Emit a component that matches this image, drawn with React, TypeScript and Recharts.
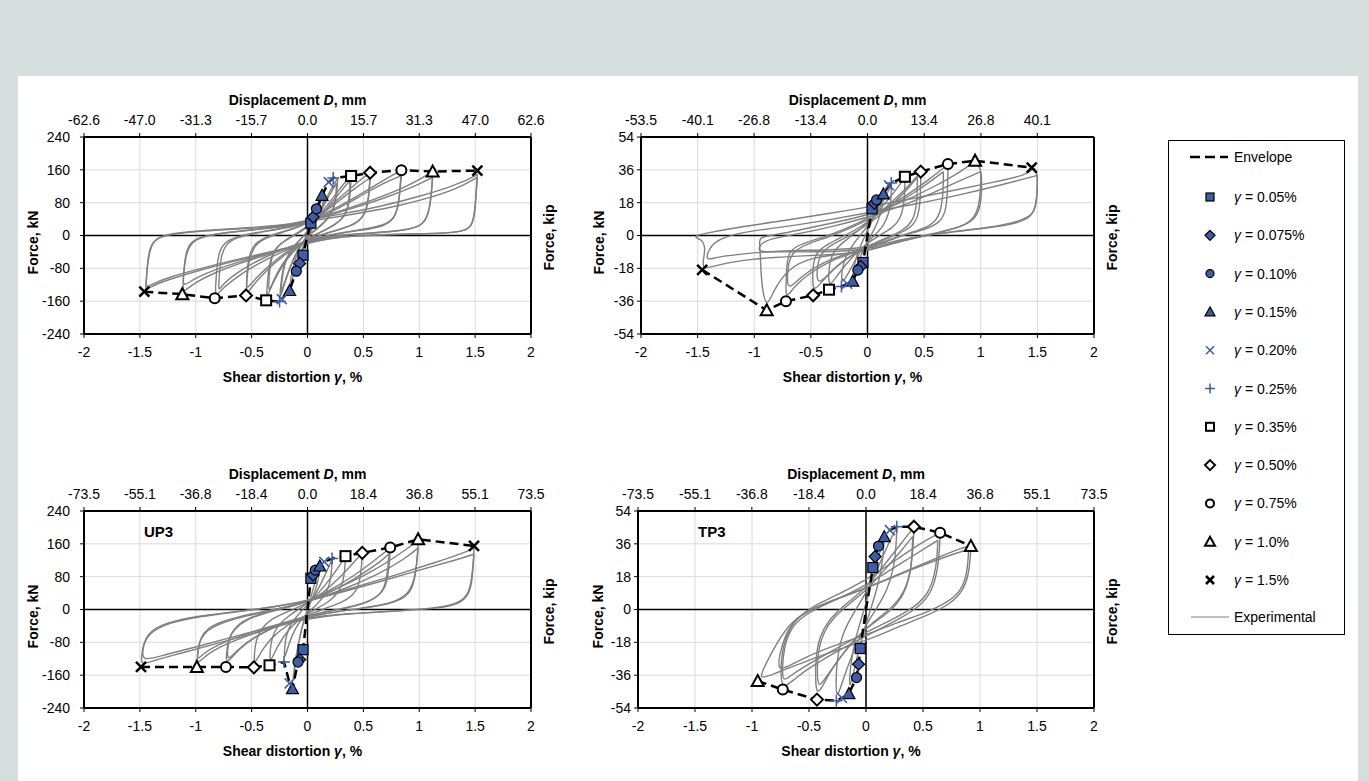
import React from 'react';
import { ScatterChart, Scatter, XAxis, YAxis, CartesianGrid, ReferenceLine } from 'recharts';

const FONT = '"Liberation Sans", Arial, sans-serif';
const BLUE = '#3d5da8';
const LOOP = '#808080';

type Pt = [number, number];

// axis ticks
const gammaTicks = [-2, -1.5, -1, -0.5, 0, 0.5, 1, 1.5, 2];
const kNTicks = [-240, -160, -80, 0, 80, 160, 240];
const smallTicks = [-54, -36, -18, 0, 18, 36, 54];
const dispTicksA = [-62.6, -47.0, -31.3, -15.7, 0, 15.7, 31.3, 47.0, 62.6];
const dispTicksB = [-53.5, -40.1, -26.8, -13.4, 0, 13.4, 26.8, 40.1];
const dispTicksC = [-73.5, -55.1, -36.8, -18.4, 0, 18.4, 36.8, 55.1, 73.5];

// drift levels, in legend order
const levels = ['0.05%', '0.075%', '0.10%', '0.15%', '0.20%', '0.25%', '0.35%', '0.50%', '0.75%', '1.0%', '1.5%'];
const kinds = ['sqFill', 'diaFill', 'cirFill', 'triFill', 'xBlue', 'plusBlue', 'sqOpen', 'diaOpen', 'cirOpen', 'triOpen', 'xBlack'];
const origin: Pt = [0, 0];

// ---- top left panel
const p1Neg: (Pt | null)[] = [[-0.04, -48], [-0.07, -68], [-0.1, -87], [-0.16, -134], [-0.23, -155], [-0.25, -161], [-0.37, -158], [-0.55, -146], [-0.83, -153], [-1.12, -143], [-1.46, -137]];
const p1Pos: (Pt | null)[] = [[0.03, 30], [0.05, 45], [0.08, 65], [0.13, 98], [0.19, 130], [0.23, 140], [0.39, 145], [0.56, 153], [0.84, 159], [1.12, 156], [1.52, 158]];
const p1Loops: Pt[][] = [
  [[1.52, 150], [1.515, 125], [1.5, 70], [1.48, 28], [1.42, 11], [1.25, 6], [0.9, 4], [0.5, 1], [0.2, -6], [0.02, -18], [-0.3, -40], [-0.65, -62], [-1.0, -87], [-1.3, -112], [-1.44, -130], [-1.45, -134], [-1.44, -105], [-1.43, -55], [-1.4, -20], [-1.33, -3], [-1.2, 6], [-0.9, 13], [-0.5, 19], [-0.15, 27], [0, 38], [0.3, 52], [0.65, 70], [1.0, 95], [1.3, 120], [1.47, 140], [1.52, 150]],
  [[1.52, 142], [1.51, 110], [1.5, 55], [1.47, 20], [1.38, 8], [1.1, 4], [0.7, 2], [0.3, -3], [0.05, -14], [-0.25, -35], [-0.6, -56], [-0.95, -80], [-1.25, -102], [-1.42, -122], [-1.45, -128], [-1.44, -95], [-1.42, -45], [-1.38, -12], [-1.28, 1], [-1.0, 10], [-0.6, 16], [-0.25, 23], [-0.02, 33], [0.3, 47], [0.7, 65], [1.05, 88], [1.35, 115], [1.52, 142]],
  [[1.12, 156], [1.115, 125], [1.1, 80], [1.07, 40], [1.0, 20], [0.8, 10], [0.5, 5], [0.2, 0], [0.02, -15], [-0.25, -38], [-0.55, -62], [-0.85, -92], [-1.05, -122], [-1.12, -142], [-1.11, -110], [-1.1, -60], [-1.07, -22], [-0.98, -5], [-0.8, 5], [-0.5, 14], [-0.2, 23], [0, 36], [0.3, 60], [0.6, 88], [0.9, 120], [1.06, 146], [1.12, 156]],
  [[1.12, 142], [1.11, 105], [1.09, 58], [1.04, 28], [0.92, 14], [0.65, 7], [0.35, 2], [0.08, -10], [-0.18, -30], [-0.5, -55], [-0.8, -80], [-1.02, -105], [-1.12, -128], [-1.11, -95], [-1.09, -48], [-1.04, -15], [-0.92, -1], [-0.7, 8], [-0.4, 16], [-0.1, 25], [0.1, 42], [0.4, 66], [0.7, 92], [0.98, 122], [1.12, 142]],
  [[0.84, 158], [0.83, 130], [0.82, 85], [0.79, 48], [0.72, 28], [0.55, 17], [0.3, 7], [0.08, -7], [-0.12, -27], [-0.35, -55], [-0.58, -90], [-0.76, -128], [-0.83, -152], [-0.82, -118], [-0.81, -68], [-0.78, -28], [-0.7, -8], [-0.52, 5], [-0.28, 15], [-0.05, 28], [0.15, 52], [0.4, 88], [0.64, 128], [0.78, 150], [0.84, 158]],
  [[0.84, 146], [0.83, 112], [0.81, 68], [0.77, 38], [0.68, 22], [0.5, 13], [0.25, 5], [0.05, -8], [-0.15, -26], [-0.38, -52], [-0.6, -84], [-0.76, -118], [-0.8, -138], [-0.79, -105], [-0.78, -58], [-0.74, -22], [-0.64, -5], [-0.45, 7], [-0.2, 17], [0.02, 32], [0.22, 58], [0.45, 92], [0.68, 128], [0.84, 146]],
  [[0.56, 152], [0.555, 120], [0.545, 80], [0.51, 48], [0.43, 28], [0.28, 14], [0.1, 0], [-0.05, -18], [-0.2, -45], [-0.37, -85], [-0.5, -125], [-0.55, -146], [-0.545, -110], [-0.535, -65], [-0.5, -28], [-0.42, -9], [-0.28, 5], [-0.1, 19], [0.05, 38], [0.2, 70], [0.38, 114], [0.5, 142], [0.56, 152]],
  [[0.56, 140], [0.55, 105], [0.53, 65], [0.48, 38], [0.38, 22], [0.22, 10], [0.06, -4], [-0.08, -20], [-0.22, -45], [-0.38, -82], [-0.5, -115], [-0.55, -134], [-0.54, -98], [-0.52, -55], [-0.47, -22], [-0.37, -5], [-0.22, 8], [-0.06, 22], [0.08, 42], [0.24, 75], [0.42, 115], [0.56, 140]],
  [[0.39, 145], [0.385, 110], [0.37, 72], [0.33, 45], [0.24, 25], [0.12, 9], [0.01, -8], [-0.1, -30], [-0.22, -70], [-0.32, -120], [-0.37, -158], [-0.36, -120], [-0.345, -70], [-0.3, -33], [-0.2, -11], [-0.08, 8], [0.04, 30], [0.15, 64], [0.28, 110], [0.36, 138], [0.39, 145]],
  [[0.38, 134], [0.375, 100], [0.36, 64], [0.31, 38], [0.21, 20], [0.09, 5], [-0.02, -10], [-0.12, -32], [-0.23, -70], [-0.31, -112], [-0.35, -142], [-0.345, -105], [-0.33, -60], [-0.28, -27], [-0.17, -7], [-0.05, 10], [0.07, 34], [0.18, 68], [0.3, 108], [0.38, 134]],
  [[0.27, 140], [0.265, 105], [0.245, 70], [0.19, 42], [0.09, 18], [0, 0], [-0.08, -30], [-0.16, -80], [-0.22, -130], [-0.25, -158], [-0.24, -120], [-0.215, -70], [-0.15, -34], [-0.06, -9], [0.03, 20], [0.12, 64], [0.2, 108], [0.27, 140]],
  [[0.26, 128], [0.255, 95], [0.23, 62], [0.17, 36], [0.08, 14], [-0.01, -4], [-0.09, -34], [-0.17, -85], [-0.22, -125], [-0.24, -145], [-0.23, -108], [-0.2, -62], [-0.14, -30], [-0.05, -6], [0.04, 22], [0.12, 60], [0.2, 100], [0.26, 128]],
  [[0.15, 105], [0.14, 75], [0.1, 44], [0.04, 15], [-0.02, -15], [-0.08, -55], [-0.13, -100], [-0.16, -135], [-0.15, -100], [-0.11, -55], [-0.05, -20], [0.02, 14], [0.08, 55], [0.13, 90], [0.15, 105]],
  [[0.09, 70], [0.07, 45], [0.03, 15], [-0.03, -25], [-0.07, -60], [-0.1, -88], [-0.08, -60], [-0.04, -28], [0.01, 5], [0.05, 35], [0.09, 70]],
];

// ---- top right panel
const p2Neg: (Pt | null)[] = [[-0.04, -14.8], [-0.06, -17], [-0.085, -19], [-0.13, -25], [-0.18, -26.5], [-0.23, -28], [-0.34, -29.7], [-0.48, -32.8], [-0.72, -36], [-0.89, -41], [-1.46, -18.8]];
const p2Pos: (Pt | null)[] = [[0.04, 14.6], [0.06, 17.7], [0.08, 19.5], [0.14, 22.8], [0.19, 27.5], [0.21, 28.8], [0.33, 32.2], [0.47, 35], [0.71, 39.2], [0.95, 41], [1.45, 37.2]];
const p2Loops: Pt[][] = [
  [[1.47, 37], [1.5, 34], [1.5, 26], [1.49, 16], [1.45, 11], [1.35, 8], [1.15, 5], [0.85, 3], [0.5, 0], [0.2, -4], [0, -9], [-0.3, -10.5], [-0.7, -11.5], [-1.05, -13], [-1.32, -16], [-1.46, -19], [-1.45, -13], [-1.43, -7], [-1.46, -2], [-1.55, -0.5], [-1.45, 1], [-1.1, 5], [-0.7, 8.5], [-0.35, 12], [-0.05, 15], [0.3, 19], [0.7, 24], [1.1, 29], [1.4, 33], [1.47, 37]],
  [[1.5, 33], [1.5, 24], [1.48, 14], [1.42, 9], [1.28, 6], [1.0, 3.5], [0.6, 1], [0.3, -2], [0, -7], [-0.4, -8], [-0.8, -8.5], [-1.1, -10], [-1.35, -12], [-1.43, -14], [-1.4, -7], [-1.32, -2], [-1.1, 2], [-0.7, 5], [-0.3, 9], [0.05, 13], [0.4, 17], [0.8, 22], [1.2, 28], [1.5, 33]],
  [[0.95, 41], [1.0, 37], [1.01, 30], [1.005, 20], [0.98, 12], [0.9, 6], [0.65, 2], [0.35, -2], [0.1, -7], [-0.2, -10], [-0.5, -12], [-0.7, -18], [-0.83, -30], [-0.89, -40], [-0.93, -30], [-0.945, -15], [-0.95, -5], [-0.96, -1], [-0.85, 0], [-0.6, 3], [-0.3, 7], [0, 11], [0.3, 18], [0.6, 27], [0.85, 36], [0.95, 41]],
  [[1.0, 35], [1.0, 28], [0.99, 18], [0.95, 10], [0.85, 5], [0.6, 1], [0.3, -3], [0.05, -7], [-0.25, -9], [-0.6, -9], [-0.85, -9], [-0.97, -9], [-0.95, -5], [-0.88, -2], [-0.6, 1], [-0.3, 5], [0, 10], [0.3, 16], [0.6, 24], [0.85, 31], [1.0, 35]],
  [[0.71, 39], [0.71, 32], [0.705, 22], [0.69, 13], [0.64, 7], [0.5, 3], [0.3, 0], [0.1, -5], [-0.1, -9], [-0.3, -13], [-0.5, -20], [-0.65, -28], [-0.72, -35], [-0.72, -28], [-0.715, -18], [-0.7, -10], [-0.64, -6], [-0.5, -3], [-0.3, 1], [-0.1, 6], [0.1, 13], [0.35, 22], [0.55, 31], [0.67, 37], [0.71, 39]],
  [[0.67, 35], [0.67, 27], [0.66, 18], [0.63, 10], [0.55, 5], [0.4, 2], [0.2, -2], [0, -7], [-0.2, -10], [-0.4, -15], [-0.58, -22], [-0.7, -30], [-0.71, -24], [-0.7, -15], [-0.66, -9], [-0.55, -5], [-0.35, -1], [-0.15, 4], [0.05, 10], [0.3, 19], [0.5, 27], [0.67, 35]],
  [[0.47, 35], [0.47, 28], [0.465, 19], [0.45, 11], [0.4, 5], [0.28, 1], [0.12, -3], [-0.05, -8], [-0.2, -13], [-0.35, -21], [-0.48, -32], [-0.485, -24], [-0.48, -15], [-0.45, -9], [-0.36, -5], [-0.2, 0], [-0.05, 5], [0.1, 12], [0.28, 22], [0.42, 31], [0.47, 35]],
  [[0.44, 32], [0.44, 24], [0.43, 15], [0.4, 8], [0.32, 3], [0.18, -1], [0.02, -5], [-0.15, -11], [-0.3, -18], [-0.44, -28], [-0.45, -20], [-0.43, -12], [-0.37, -7], [-0.25, -3], [-0.1, 2], [0.05, 8], [0.2, 16], [0.35, 25], [0.44, 32]],
  [[0.33, 32], [0.33, 25], [0.32, 16], [0.29, 9], [0.22, 4], [0.1, 0], [-0.02, -5], [-0.14, -12], [-0.26, -21], [-0.34, -29], [-0.345, -21], [-0.33, -13], [-0.28, -7], [-0.18, -2], [-0.05, 4], [0.08, 12], [0.2, 21], [0.3, 29], [0.33, 32]],
  [[0.21, 28], [0.21, 20], [0.19, 12], [0.14, 5], [0.06, 0], [-0.04, -6], [-0.13, -16], [-0.23, -28], [-0.23, -20], [-0.2, -12], [-0.13, -5], [-0.04, 2], [0.06, 10], [0.15, 20], [0.21, 28]],
  [[0.14, 23], [0.13, 15], [0.09, 7], [0.03, 0], [-0.04, -8], [-0.09, -16], [-0.13, -25], [-0.12, -16], [-0.08, -8], [-0.02, 0], [0.04, 8], [0.1, 16], [0.14, 23]],
];

// ---- UP3
const p3Neg: (Pt | null)[] = [[-0.04, -98], [-0.07, -122], [-0.085, -128], [-0.135, -193], [-0.16, -180], [-0.21, -128], [-0.34, -136], [-0.48, -141], [-0.73, -140], [-0.99, -140], [-1.49, -140]];
const p3Pos: (Pt | null)[] = [[0.03, 76], [0.05, 84], [0.07, 96], [0.11, 106], [0.15, 116], [0.22, 124], [0.34, 130], [0.49, 138], [0.74, 151], [0.99, 171], [1.49, 155]];
const p3Loops: Pt[][] = [
  [[1.49, 150], [1.485, 120], [1.475, 75], [1.45, 38], [1.37, 14], [1.18, 3], [0.85, -3], [0.45, -9], [0.12, -17], [-0.1, -28], [-0.4, -52], [-0.8, -82], [-1.15, -108], [-1.4, -126], [-1.49, -136], [-1.485, -112], [-1.47, -85], [-1.42, -60], [-1.3, -38], [-1.05, -20], [-0.65, -6], [-0.25, 8], [0.05, 25], [0.4, 52], [0.8, 85], [1.15, 115], [1.4, 138], [1.49, 150]],
  [[1.49, 135], [1.48, 105], [1.465, 65], [1.43, 32], [1.33, 12], [1.1, 2], [0.75, -4], [0.35, -10], [0.05, -18], [-0.2, -33], [-0.55, -58], [-0.95, -88], [-1.3, -112], [-1.48, -126], [-1.475, -100], [-1.455, -72], [-1.39, -48], [-1.22, -28], [-0.9, -13], [-0.5, -1], [-0.1, 14], [0.25, 38], [0.65, 68], [1.05, 100], [1.35, 122], [1.49, 135]],
  [[0.99, 168], [0.985, 135], [0.97, 90], [0.94, 50], [0.86, 25], [0.68, 10], [0.4, 0], [0.1, -12], [-0.15, -28], [-0.45, -55], [-0.75, -85], [-0.93, -115], [-0.99, -136], [-0.985, -110], [-0.97, -80], [-0.92, -55], [-0.8, -35], [-0.55, -15], [-0.25, 2], [0.02, 22], [0.3, 55], [0.6, 95], [0.85, 140], [0.99, 168]],
  [[0.99, 150], [0.98, 118], [0.96, 78], [0.92, 45], [0.82, 22], [0.62, 8], [0.35, -2], [0.08, -13], [-0.2, -30], [-0.5, -55], [-0.78, -82], [-0.94, -108], [-0.99, -126], [-0.98, -98], [-0.96, -70], [-0.9, -46], [-0.76, -28], [-0.5, -10], [-0.2, 5], [0.05, 22], [0.35, 52], [0.65, 88], [0.88, 125], [0.99, 150]],
  [[0.74, 150], [0.735, 118], [0.72, 80], [0.69, 48], [0.6, 25], [0.45, 10], [0.22, -2], [0.02, -14], [-0.2, -32], [-0.42, -58], [-0.62, -95], [-0.73, -138], [-0.725, -105], [-0.71, -75], [-0.66, -48], [-0.55, -25], [-0.38, -8], [-0.15, 6], [0.05, 25], [0.28, 58], [0.5, 98], [0.67, 135], [0.74, 150]],
  [[0.73, 136], [0.72, 105], [0.705, 70], [0.67, 42], [0.57, 20], [0.4, 6], [0.18, -5], [-0.02, -16], [-0.24, -35], [-0.45, -62], [-0.63, -98], [-0.72, -128], [-0.715, -96], [-0.7, -66], [-0.64, -40], [-0.52, -19], [-0.33, -4], [-0.1, 10], [0.1, 28], [0.32, 58], [0.52, 92], [0.67, 120], [0.73, 136]],
  [[0.49, 138], [0.485, 108], [0.47, 72], [0.44, 45], [0.36, 24], [0.22, 8], [0.05, -8], [-0.1, -25], [-0.26, -52], [-0.4, -92], [-0.48, -140], [-0.475, -105], [-0.46, -72], [-0.41, -45], [-0.32, -22], [-0.18, -5], [-0.02, 12], [0.13, 38], [0.3, 80], [0.43, 120], [0.49, 138]],
  [[0.34, 130], [0.335, 100], [0.32, 68], [0.28, 42], [0.2, 20], [0.08, 2], [-0.05, -18], [-0.16, -45], [-0.27, -88], [-0.34, -135], [-0.335, -100], [-0.32, -68], [-0.27, -40], [-0.17, -15], [-0.05, 5], [0.07, 30], [0.19, 70], [0.29, 108], [0.34, 130]],
  [[0.22, 122], [0.215, 92], [0.2, 60], [0.15, 32], [0.07, 8], [-0.03, -15], [-0.11, -45], [-0.17, -85], [-0.21, -126], [-0.205, -92], [-0.19, -60], [-0.14, -30], [-0.06, -5], [0.04, 22], [0.12, 62], [0.18, 98], [0.22, 122]],
  [[0.11, 105], [0.1, 75], [0.07, 45], [0.02, 12], [-0.04, -30], [-0.09, -90], [-0.135, -190], [-0.12, -140], [-0.08, -80], [-0.03, -25], [0.02, 20], [0.06, 60], [0.11, 105]],
];

// ---- TP3
const p4Neg: (Pt | null)[] = [[-0.05, -21.4], [-0.065, -30], [-0.083, -37.3], [-0.15, -46.1], [-0.21, -48.5], [-0.26, -50], null, [-0.43, -49.4], [-0.73, -43.9], [-0.95, -39.2], null];
const p4Pos: (Pt | null)[] = [[0.06, 23], [0.08, 29], [0.11, 34.8], [0.16, 39.9], [0.21, 43.5], [0.27, 45.4], null, [0.42, 45.4], [0.65, 42.1], [0.92, 34.8], null];
const p4Loops: Pt[][] = [
  [[0.92, 35], [0.915, 28], [0.9, 19], [0.85, 10], [0.74, 3], [0.55, -3], [0.3, -9], [0.05, -16], [-0.25, -22], [-0.55, -29], [-0.8, -35], [-0.95, -39], [-0.88, -30], [-0.78, -18], [-0.66, -7], [-0.5, 0], [-0.25, 6], [0.05, 13], [0.35, 21], [0.65, 29], [0.85, 34], [0.92, 35]],
  [[0.9, 33], [0.895, 26], [0.88, 18], [0.83, 10], [0.72, 4], [0.52, -2], [0.28, -7], [0, -14], [-0.3, -20], [-0.6, -28], [-0.78, -35], [-0.76, -25], [-0.71, -14], [-0.62, -5], [-0.45, 1], [-0.2, 7], [0.1, 14], [0.4, 22], [0.7, 29], [0.9, 33]],
  [[0.65, 42], [0.645, 33], [0.63, 22], [0.58, 10], [0.48, 2], [0.3, -5], [0.05, -13], [-0.2, -21], [-0.45, -30], [-0.63, -38], [-0.73, -44], [-0.75, -36], [-0.74, -24], [-0.69, -12], [-0.58, -3], [-0.4, 4], [-0.15, 11], [0.1, 20], [0.35, 31], [0.55, 39], [0.65, 42]],
  [[0.63, 38], [0.625, 29], [0.6, 18], [0.54, 8], [0.42, 1], [0.22, -6], [-0.02, -13], [-0.25, -21], [-0.48, -29], [-0.66, -36], [-0.73, -40], [-0.735, -32], [-0.72, -21], [-0.66, -10], [-0.54, -3], [-0.35, 3], [-0.1, 10], [0.15, 19], [0.4, 29], [0.58, 36], [0.63, 38]],
  [[0.42, 45], [0.415, 36], [0.4, 24], [0.36, 12], [0.28, 3], [0.15, -4], [-0.02, -11], [-0.18, -22], [-0.32, -34], [-0.43, -49], [-0.445, -38], [-0.44, -26], [-0.41, -15], [-0.33, -6], [-0.2, 2], [-0.03, 10], [0.13, 22], [0.28, 34], [0.38, 42], [0.42, 45]],
  [[0.41, 40], [0.405, 31], [0.39, 20], [0.34, 10], [0.25, 2], [0.1, -5], [-0.05, -13], [-0.2, -24], [-0.34, -36], [-0.42, -44], [-0.43, -34], [-0.42, -22], [-0.37, -12], [-0.28, -4], [-0.13, 4], [0.03, 12], [0.18, 23], [0.32, 33], [0.41, 40]],
  [[0.27, 45], [0.265, 35], [0.245, 23], [0.19, 11], [0.1, 1], [-0.02, -10], [-0.13, -26], [-0.21, -40], [-0.26, -50], [-0.265, -38], [-0.25, -25], [-0.2, -12], [-0.11, -2], [0.01, 10], [0.12, 25], [0.21, 38], [0.27, 45]],
  [[0.16, 40], [0.15, 28], [0.11, 14], [0.04, 0], [-0.04, -16], [-0.1, -32], [-0.15, -46], [-0.14, -32], [-0.1, -17], [-0.03, -3], [0.04, 12], [0.1, 27], [0.16, 40]],
];

function Marker({ kind, cx, cy, s }: { kind: string; cx: number; cy: number; s: number }) {
  const h = s / 2;
  const d = h + 1;
  const diamond = `${cx},${cy - d} ${cx + d},${cy} ${cx},${cy + d} ${cx - d},${cy}`;
  const tri = `${cx},${cy - d} ${cx + d},${cy + h} ${cx - d},${cy + h}`;
  const cross = `M${cx - h},${cy - h}L${cx + h},${cy + h}M${cx + h},${cy - h}L${cx - h},${cy + h}`;
  const plus = `M${cx - d},${cy}L${cx + d},${cy}M${cx},${cy - d}L${cx},${cy + d}`;
  switch (kind) {
    case 'sqFill':
      return <rect x={cx - h} y={cy - h} width={s} height={s} fill={BLUE} stroke="#000" strokeWidth={1.2} />;
    case 'diaFill':
      return <polygon points={diamond} fill={BLUE} stroke="#000" strokeWidth={1.2} />;
    case 'cirFill':
      return <circle cx={cx} cy={cy} r={h} fill={BLUE} stroke="#000" strokeWidth={1.2} />;
    case 'triFill':
      return <polygon points={tri} fill={BLUE} stroke="#000" strokeWidth={1.2} />;
    case 'xBlue':
      return <path d={cross} stroke={BLUE} strokeWidth={1.5} fill="none" />;
    case 'plusBlue':
      return <path d={plus} stroke={BLUE} strokeWidth={1.5} fill="none" />;
    case 'sqOpen':
      return <rect x={cx - h} y={cy - h} width={s} height={s} fill="#fff" stroke="#000" strokeWidth={2} />;
    case 'diaOpen':
      return <polygon points={diamond} fill="#fff" stroke="#000" strokeWidth={2} />;
    case 'cirOpen':
      return <circle cx={cx} cy={cy} r={h} fill="#fff" stroke="#000" strokeWidth={2} />;
    case 'triOpen':
      return <polygon points={tri} fill="#fff" stroke="#000" strokeWidth={2} />;
    default:
      return <path d={cross} stroke="#000" strokeWidth={2.5} fill="none" />;
  }
}

const toXY = (pts: Pt[]) => pts.map(([x, y]) => ({ x, y }));

type PanelProps = {
  left: number;
  top: number;
  w: number;
  h: number;
  yTicks: number[];
  dispTicks: number[];
  dispMax: number;
  loops: Pt[][];
  neg: (Pt | null)[];
  pos: (Pt | null)[];
  tickGap: number;
  kNOff: number;
  tag?: string;
};

function Panel({ left, top, w, h, yTicks, dispTicks, dispMax, loops, neg, pos, tickGap, kNOff, tag }: PanelProps) {
  const LW = 75;
  const TH = 50;
  const width = w + LW + 45;
  const height = h + TH + 65;
  const yMax = yTicks[yTicks.length - 1];
  const env: Pt[] = [
    ...(neg.filter(Boolean) as Pt[]).slice().reverse(),
    origin,
    ...(pos.filter(Boolean) as Pt[]),
  ];
  const tickStyle = { fontSize: 14, fill: '#000', fontFamily: FONT };
  const titleStyle = { fontFamily: FONT, fontSize: 14, fontWeight: 700, fill: '#000' } as const;

  return (
    <div style={{ position: 'absolute', left: left - LW, top: top - TH, width, height }}>
      <ScatterChart width={width} height={height} margin={{ top: 0, right: 0, bottom: 0, left: 0 }}>
        <CartesianGrid stroke="#dadada" strokeWidth={1} />
        <XAxis
          dataKey="x"
          type="number"
          domain={[-2, 2]}
          ticks={gammaTicks}
          interval={0}
          allowDataOverflow
          height={65}
          tick={tickStyle}
          tickSize={4}
          tickMargin={9}
          tickLine={{ stroke: '#000' }}
          axisLine={{ stroke: '#000', strokeWidth: 2 }}
          label={() => (
            <text x={LW + w / 2 - 15} y={TH + h + 48} textAnchor="middle" {...titleStyle}>
              Shear distortion <tspan fontStyle="italic">γ</tspan>, %
            </text>
          )}
        />
        <XAxis
          xAxisId="top"
          orientation="top"
          dataKey="x"
          type="number"
          domain={[-dispMax, dispMax]}
          ticks={dispTicks}
          interval={0}
          allowDataOverflow
          height={TH}
          tick={tickStyle}
          tickSize={4}
          tickMargin={8}
          tickFormatter={(v: number) => v.toFixed(1)}
          tickLine={{ stroke: '#000' }}
          axisLine={{ stroke: '#000', strokeWidth: 2 }}
          label={() => (
            <text x={LW + w / 2 - 10} y={18} textAnchor="middle" {...titleStyle}>
              Displacement <tspan fontStyle="italic">D</tspan>, mm
            </text>
          )}
        />
        <YAxis
          dataKey="y"
          type="number"
          domain={[-yMax, yMax]}
          ticks={yTicks}
          interval={0}
          allowDataOverflow
          width={LW}
          tick={tickStyle}
          tickSize={4}
          tickMargin={tickGap}
          tickLine={{ stroke: '#000' }}
          axisLine={{ stroke: '#000', strokeWidth: 2 }}
          label={() => {
            const cx = LW - kNOff;
            const cy = TH + h / 2 + 7;
            return (
              <text x={cx} y={cy} transform={`rotate(-90 ${cx} ${cy})`} textAnchor="middle" dominantBaseline="central" {...titleStyle}>
                Force, kN
              </text>
            );
          }}
        />
        <YAxis
          yAxisId="right"
          orientation="right"
          dataKey="y"
          type="number"
          domain={[-yMax, yMax]}
          allowDataOverflow
          width={45}
          tick={false}
          tickLine={false}
          axisLine={{ stroke: '#000', strokeWidth: 2 }}
          label={() => {
            const cx = LW + w + 18;
            const cy = TH + h / 2 + 2;
            return (
              <text x={cx} y={cy} transform={`rotate(-90 ${cx} ${cy})`} textAnchor="middle" dominantBaseline="central" {...titleStyle}>
                Force, kip
              </text>
            );
          }}
        />
        <ReferenceLine x={0} stroke="#000" strokeWidth={1.5} />
        <ReferenceLine y={0} stroke="#000" strokeWidth={1.5} />
        {loops.map((loop, i) => (
          <Scatter
            key={`loop-${i}`}
            data={toXY(loop)}
            line={{ stroke: LOOP, strokeWidth: 1.4 }}
            lineJointType="basis"
            shape={() => <g />}
            isAnimationActive={false}
          />
        ))}
        <Scatter
          data={toXY(env)}
          line={{ stroke: '#000', strokeWidth: 2.5, strokeDasharray: '9 5' }}
          shape={() => <g />}
          isAnimationActive={false}
        />
        {levels.map((lvl, i) => (
          <Scatter
            key={lvl}
            name={lvl}
            data={toXY([neg[i], pos[i]].filter(Boolean) as Pt[])}
            shape={(p: any) => <Marker kind={kinds[i]} cx={p.cx} cy={p.cy} s={10} />}
            isAnimationActive={false}
          />
        ))}
      </ScatterChart>
      {tag && (
        <div
          style={{
            position: 'absolute',
            left: LW + 60,
            top: TH + 12,
            fontFamily: FONT,
            fontSize: 15,
            fontWeight: 700,
            lineHeight: '18px',
          }}
        >
          {tag}
        </div>
      )}
    </div>
  );
}

function LegendBox() {
  const rowY = (i: number) => 57 + i * 38.3;
  const textStyle = { fontFamily: FONT, fontSize: 14, fill: '#000' } as const;
  return (
    <div
      style={{
        position: 'absolute',
        left: 1168,
        top: 140,
        width: 177,
        height: 495,
        border: '1px solid #000',
        boxSizing: 'border-box',
        background: '#fff',
      }}
    >
      <svg width={175} height={493}>
        <line x1={21} y1={16} x2={59} y2={16} stroke="#000" strokeWidth={2.5} strokeDasharray="10 5" />
        <text x={65} y={21} {...textStyle}>Envelope</text>
        {levels.map((lvl, i) => (
          <g key={lvl}>
            <Marker kind={kinds[i]} cx={41} cy={rowY(i) - 1} s={8} />
            <text x={65} y={rowY(i) + 4} {...textStyle}>
              <tspan fontStyle="italic">γ</tspan> = {lvl}
            </text>
          </g>
        ))}
        <line x1={22} y1={476} x2={60} y2={476} stroke={LOOP} strokeWidth={1} />
        <text x={65} y={481} {...textStyle}>Experimental</text>
      </svg>
    </div>
  );
}

export default function App() {
  return (
    <div style={{ position: 'absolute', left: 0, top: 0, width: 1369, height: 781, background: '#d6dfde', overflow: 'hidden' }}>
      <div style={{ position: 'absolute', left: 18, top: 76, width: 1340, height: 705, background: '#fff' }} />
      <Panel left={84} top={137} w={447} h={197} yTicks={kNTicks} dispTicks={dispTicksA} dispMax={62.6} loops={p1Loops} neg={p1Neg} pos={p1Pos} tickGap={10} kNOff={51} />
      <Panel left={641} top={137} w={453} h={197} yTicks={smallTicks} dispTicks={dispTicksB} dispMax={53.5} loops={p2Loops} neg={p2Neg} pos={p2Pos} tickGap={3} kNOff={42} />
      <Panel left={84} top={511} w={447} h={197} yTicks={kNTicks} dispTicks={dispTicksC} dispMax={73.5} loops={p3Loops} neg={p3Neg} pos={p3Pos} tickGap={10} kNOff={51} tag="UP3" />
      <Panel left={638} top={511} w={456} h={197} yTicks={smallTicks} dispTicks={dispTicksC} dispMax={73.5} loops={p4Loops} neg={p4Neg} pos={p4Pos} tickGap={3} kNOff={40} tag="TP3" />
      <LegendBox />
    </div>
  );
}
